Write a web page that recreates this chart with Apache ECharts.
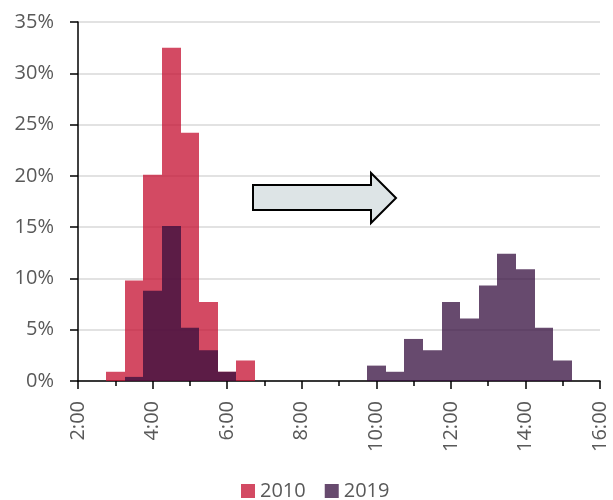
<!DOCTYPE html>
<html>
<head>
<meta charset="utf-8">
<script src="https://cdn.jsdelivr.net/npm/echarts@6/dist/echarts.min.js"></script>
<style>
  html, body { margin: 0; padding: 0; background: #ffffff; }
  #chart { width: 613px; height: 500px; }
</style>
</head>
<body>
<div id="chart"></div>
<script>
// Half-hour bins (centre time in hours) and share of observations (%)
const seriesNames = ['2010', '2019'];
const bins2010 = [3, 3.5, 4, 4.5, 5, 5.5, 6, 6.5];
const share2010 = [0.9, 9.8, 20.1, 32.5, 24.2, 7.7, 0.9, 2.0];
const bins2019 = [3.5, 4, 4.5, 5, 5.5, 6, 10, 10.5, 11, 11.5, 12, 12.5, 13, 13.5, 14, 14.5, 15];
const share2019 = [0.4, 8.8, 15.1, 5.2, 3.0, 0.9, 1.5, 0.9, 4.1, 3.0, 7.7, 6.1, 9.3, 12.4, 10.9, 5.2, 2.0];
const binWidth = 0.5;

const FONT = '"Open Sans", "Noto Sans", sans-serif';
const LABEL_COLOR = '#595959';

function histogram(name, bins, values, color) {
  return {
    name: name,
    type: 'custom',
    itemStyle: { color: color, opacity: 0.75 },
    data: bins.map((b, i) => [b, values[i]]),
    renderItem: function (params, api) {
      const x = api.value(0);
      const v = api.value(1);
      const p0 = api.coord([x - binWidth / 2, v]);
      const p1 = api.coord([x + binWidth / 2, 0]);
      // snap the bin edges to whole pixels so neighbouring bins join without seams
      const left = Math.round(p0[0]);
      const right = Math.round(p1[0]);
      return {
        type: 'rect',
        shape: { x: left, y: p0[1], width: right - left, height: p1[1] - p0[1] },
        style: { fill: color, opacity: 0.75 }
      };
    }
  };
}

const chart = echarts.init(document.getElementById('chart'), null, { renderer: 'canvas' });
chart.setOption({
  animation: false,
  textStyle: { fontFamily: FONT },
  grid: { left: 78, right: 13, top: 22, bottom: 119, containLabel: false },
  xAxis: {
    type: 'value',
    min: 2, max: 16, interval: 2,
    axisLine: { show: true, lineStyle: { color: '#000', width: 1.5 } },
    axisTick: { show: true, length: 8, lineStyle: { color: '#000', width: 1.5 } },
    minorTick: { show: true, splitNumber: 2, length: 5, lineStyle: { color: '#000', width: 1.5 } },
    splitLine: { show: false },
    axisLabel: {
      rotate: 90, margin: 20, color: LABEL_COLOR, fontSize: 20, fontFamily: FONT,
      formatter: v => v + ':00'
    }
  },
  yAxis: {
    type: 'value',
    min: 0, max: 35, interval: 5,
    axisLine: { show: true, lineStyle: { color: '#000', width: 1.5 } },
    axisTick: { show: true, length: 8, lineStyle: { color: '#000', width: 1.5 } },
    splitLine: { show: true, lineStyle: { color: '#d9d9d9', width: 1.5 } },
    axisLabel: { margin: 24, color: LABEL_COLOR, fontSize: 20, fontFamily: FONT, formatter: '{value}%' }
  },
  legend: {
    top: 476,
    left: 236,
    icon: 'rect',
    itemWidth: 14, itemHeight: 14, itemGap: 19,
    textStyle: { color: LABEL_COLOR, fontSize: 20, fontFamily: FONT },
    data: seriesNames
  },
  series: [
    histogram(seriesNames[0], bins2010, share2010, '#c40e2f'),
    histogram(seriesNames[1], bins2019, share2019, '#340e3e')
  ],
  graphic: [{
    type: 'polygon',
    z: 100,
    shape: {
      points: [[253, 185], [371, 185], [371, 173], [396, 198], [371, 223], [371, 210], [253, 210]]
    },
    style: { fill: '#dde4e6', stroke: '#000', lineWidth: 2, lineJoin: 'miter' }
  }]
});
</script>
</body>
</html>
